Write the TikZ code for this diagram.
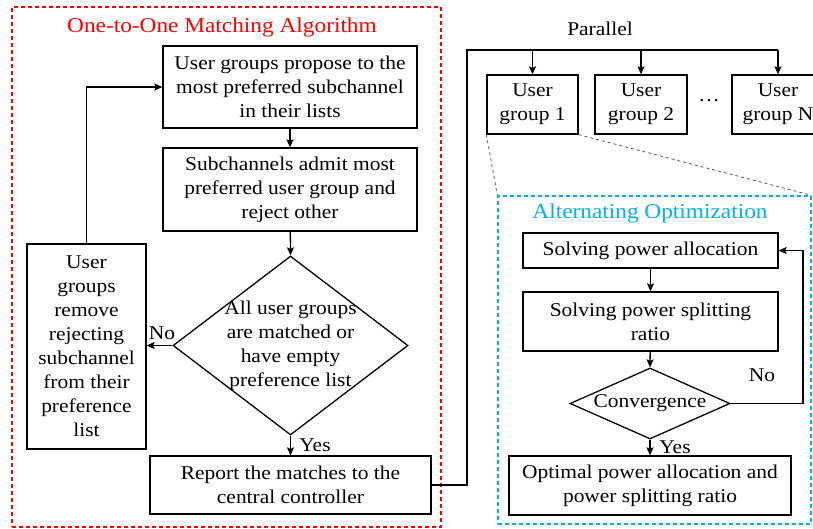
\documentclass[tikz,border=0pt]{standalone}
\usepackage{fontspec}
\setmainfont{Liberation Serif}[FakeStretch=1.1]
\usetikzlibrary{shapes.geometric,arrows.meta}
\definecolor{aoblue}{HTML}{00B0F0}
\begin{document}
\begin{tikzpicture}[x=1pt,y=-1pt,
  txt/.style={font=\fontsize{19.5}{24}\selectfont},
  box/.style={txt,draw,line width=1.3pt,align=center,inner sep=0pt},
  diam/.style={draw,diamond,line width=1.3pt,inner sep=0pt},
  arr/.style={-{Stealth[length=8pt,width=7pt,inset=1.5pt]},line width=1.3pt},
  wire/.style={line width=1.3pt},
  frame/.style={draw,line width=1.3pt,dash pattern=on 4pt off 3pt,inner sep=0pt},
  ttl/.style={font=\fontsize{21.2}{24}\selectfont}]
\useasboundingbox (0,0) rectangle (813,529);

% outer frames
\node[frame,red,minimum width=429,minimum height=520] (oto) at (226.5,267) {};
\node[ttl,text=red] (otot) at (222,27) {One-to-One Matching Algorithm};
\node[frame,aoblue,minimum width=313,minimum height=328] (ao) at (654.5,360) {};
\node[ttl,text=aoblue] (aot) at (650,213) {Alternating Optimization};

% matching algorithm
\node[box,minimum width=254,minimum height=82] (b1) at (290,87)
  {User groups propose to the\\most preferred subchannel\\in their lists};
\node[box,minimum width=254,minimum height=83] (b2) at (290,189.5)
  {Subchannels admit most\\preferred user group and\\reject other};
\node[diam,minimum width=235,minimum height=179] (d1) at (290.5,345.5) {};
\node[txt,align=center] (d1t) at (d1.center)
  {All user groups\\are matched or\\have empty\\preference list};
\node[box,minimum width=119,minimum height=205] (lb) at (86.5,346.5)
  {User\\groups\\remove\\rejecting\\subchannel\\from their\\preference\\list};
\node[box,minimum width=281,minimum height=58] (rep) at (290.5,485)
  {Report the matches to the\\central controller};

\draw[arr] (b1) -- (b2);
\draw[arr] (b2) -- (d1.north);
\draw[arr] (d1.west) -- (d1.west -| lb.east);
\draw[arr] (lb.north) |- (b1.west);
\draw[arr] (d1.south) -- (rep.north);
\node[txt] (no1) at (162,333) {No};
\node[txt] (yes1) at (315,445) {Yes};

% parallel user groups
\node[box,minimum width=91,minimum height=59] (ug1) at (532.5,104.5) {User\\group 1};
\node[box,minimum width=92,minimum height=59] (ug2) at (641,104.5) {User\\group 2};
\node[box,minimum width=92,minimum height=59] (ugN) at (778,104.5) {User\\group N};
\node[txt] (dots) at (709,101) {\dots};
\node[txt] (par) at (600,29) {Parallel};
\coordinate (busL) at (467,50);
\coordinate (busR) at (ugN.north |- busL);
\draw[wire] (rep.east) -| (busL) -- (busR);
\draw[arr] (ug1.north |- busL) -- (ug1.north);
\draw[arr] (ug2.north |- busL) -- (ug2.north);
\draw[arr] (busR) -- (ugN.north);
\draw[dashed,gray!70!black,line width=0.8pt] (ug1.south west) -- (ao.north west);
\draw[dashed,gray!70!black,line width=0.8pt] (ug1.south east) -- (ao.north east);

% alternating optimization
\node[box,minimum width=255,minimum height=35] (spa) at (650.5,250.5) {Solving power allocation};
\node[box,minimum width=255,minimum height=59] (sps) at (650.5,321.5) {Solving power splitting\\ratio};
\node[diam,minimum width=160,minimum height=71] (d2) at (650,403.5) {};
\node[txt] (d2t) at (d2.center) {Convergence};
\node[box,minimum width=282,minimum height=59] (opt) at (650,485.5)
  {Optimal power allocation and\\power splitting ratio};
\coordinate (loopR) at (803,403.5);
\draw[arr] (spa) -- (sps);
\draw[arr] (sps) -- (d2.north);
\draw[arr] (d2.south) -- (opt.north);
\draw[arr] (d2.east) -- (loopR) |- (spa.east);
\node[txt] (no2) at (762,375) {No};
\node[txt] (yes2) at (675,447) {Yes};
\end{tikzpicture}
\end{document}
